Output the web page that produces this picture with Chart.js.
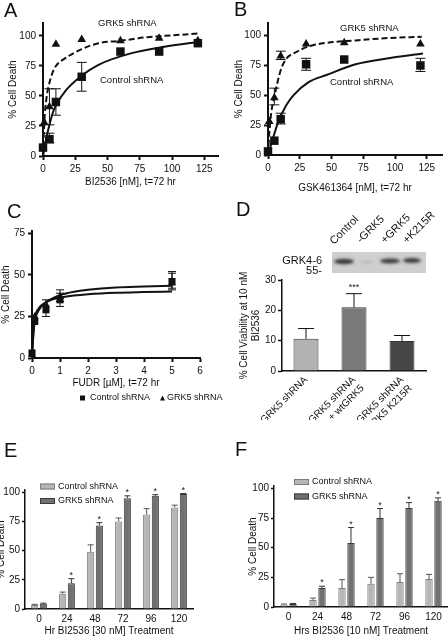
<!DOCTYPE html>
<html>
<head>
<meta charset="utf-8">
<title>GRK5 shRNA - cell death panels</title>
<script src="https://cdn.jsdelivr.net/npm/chart.js"></script>
<style>
  body { margin: 0; width: 448px; height: 642px; background: #fff; position: relative; overflow: hidden; }
  canvas { position: absolute; }
</style>
</head>
<body>
<canvas id="cA"></canvas>
<canvas id="cB"></canvas>
<canvas id="cC"></canvas>
<canvas id="cD"></canvas>
<canvas id="cE"></canvas>
<canvas id="cF"></canvas>
<script>
// ---- panel A: BI2536 dose response (72 hr) ----
var aCtrlX = [0, 5, 10, 30, 60, 90, 120];
var aCtrlY = [7, 14, 45, 66, 87, 87, 94];
var aCtrlLo = [null, 11, 34, 54, null, null, null];
var aCtrlHi = [null, 19, 56, 78, null, null, null];
var aGrkX = [1, 5, 10, 30, 60, 90, 120];
var aGrkY = [28, 41, 93, 97, 96, 98, 96];
var aGrkLo = [null, 26, null, null, null, null, null];
var aGrkHi = [null, 56, null, null, null, null, null];
var aFitGrkX = [0, 1, 2.8, 5, 7.6, 10, 18, 30, 43, 60, 81, 100, 120];
var aFitGrkY = [0, 28, 49, 61, 70, 75, 82, 89, 94, 96, 99, 100.5, 102];
var aFitCtrlX = [0, 2.8, 5, 7.6, 10, 18, 30, 43, 68, 94, 120];
var aFitCtrlY = [0, 16, 26, 36, 42, 55, 67, 76, 85.5, 91, 95];
var aXTicks = [0, 25, 50, 75, 100, 125];
var aYTicks = [0, 25, 50, 75, 100];

// ---- panel B: GSK461364 dose response (72 hr) ----
var bCtrlX = [0, 5, 10, 30, 60, 120];
var bCtrlY = [3, 12, 30, 76, 80, 75];
var bCtrlLo = [null, null, 26, 71, null, 70];
var bCtrlHi = [null, null, 35, 81, null, 81];
var bGrkX = [1, 5, 10, 30, 60, 120];
var bGrkY = [28, 48, 83, 93, 94, 93];
var bGrkLo = [null, 42, 80, null, null, null];
var bGrkHi = [null, 56, 87, null, null, null];
var bFitGrkX = [0, 1, 2.5, 5, 10, 14.6, 20, 32, 46, 69, 95, 121];
var bFitGrkY = [0, 18, 35, 49, 71, 81, 85, 91, 94, 96, 98, 99];
var bFitCtrlX = [0, 2.8, 7.8, 14.6, 20, 32, 46, 69, 95, 122];
var bFitCtrlY = [0, 10, 27, 42, 50, 61, 67, 76, 81, 85];

// ---- panel C: FUDR dose response (72 hr) ----
var cCtrlX = [0, 0.1, 0.5, 1, 5];
var cCtrlY = [3, 22, 29, 35, 46];
var cCtrlLo = [null, null, 25, 31, 41];
var cCtrlHi = [null, null, 35, 39, 51];
var cGrkX = [0, 0.1, 0.5, 1, 5];
var cGrkY = [2, 25, 32, 37, 45];
var cGrkLo = [null, null, null, 34, 42];
var cGrkHi = [null, null, null, 41, 52];
var cFitX = [0, 0.05, 0.1, 0.25, 0.5, 0.75, 1, 1.5, 2, 3, 4, 5];
var cFitUpY = [0, 14, 22, 29, 33.5, 36, 37.8, 39.8, 41, 42.4, 43, 43.5];
var cFitLowY = [0, 16, 24, 30, 33.5, 35.3, 36.3, 37.6, 38.4, 39.3, 39.7, 40];
var cXTicks = [0, 1, 2, 3, 4, 5, 6];
var cYTicks = [0, 25, 50, 75];

// ---- panel D: viability at 10 nM BI2536 ----
var dLabels = [['GRK5 shRNA'], ['GRK5 shRNA', '+ wtGRK5'], ['GRK5 shRNA', '+ GRK5 K215R']];
var dVals = [10.6, 21, 9.9];
var dErrHi = [14, 25.5, 11.7];
var dStars = ['', '***', ''];
var dYTicks = [0, 10, 20, 30];
var blotLanes = ['Control', '-GRK5', '+GRK5', '+K215R'];

// ---- panels E / F: time course ----
var hours = ['0', '24', '48', '72', '96', '120'];
var eCtrl = [3.5, 13, 49, 75, 81, 87];
var eCtrlHi = [4, 14.5, 55, 78, 86, 89];
var eGrk = [4.5, 22, 71.5, 95, 97, 98.5];
var eGrkHi = [5, 26, 74, 97, 98, 99];
var fCtrl = [2, 6, 16, 19.5, 21, 23.5];
var fCtrlHi = [2.5, 7.5, 23, 25, 28, 27.5];
var fGrk = [2.5, 16, 54, 75, 83.5, 89.5];
var fGrkHi = [3, 17.5, 67, 83, 88, 92];
var timeStars = ['', '*', '*', '*', '*', '*'];
var pctTicks = [0, 25, 50, 75, 100];

var FONT = '"Liberation Sans", Arial, sans-serif';
Chart.defaults.font.family = FONT;
Chart.defaults.color = '#111';
Chart.defaults.animation = false;
Chart.defaults.plugins.legend.display = false;
Chart.defaults.plugins.tooltip.enabled = false;

// error bars (and significance stars) drawn from the dataset's errLo / errHi arrays
Chart.register({
  id: 'errorBars',
  afterDatasetsDraw: function (chart) {
    var ctx = chart.ctx, ys = chart.scales.y;
    chart.data.datasets.forEach(function (ds, di) {
      if (!ds.errHi) return;
      chart.getDatasetMeta(di).data.forEach(function (el, i) {
        var hi = ds.errHi[i];
        var v = typeof ds.data[i] === 'object' ? ds.data[i].y : ds.data[i];
        var w = ds.capW || 4;
        ctx.save();
        ctx.strokeStyle = ds.errColor || '#111';
        ctx.lineWidth = 1;
        if (hi != null) {
          var lo = ds.errLo ? ds.errLo[i] : v;
          var yh = ys.getPixelForValue(hi), yl = ys.getPixelForValue(lo);
          ctx.beginPath();
          ctx.moveTo(el.x, yl); ctx.lineTo(el.x, yh);
          ctx.moveTo(el.x - w, yh); ctx.lineTo(el.x + w, yh);
          if (ds.errLo) { ctx.moveTo(el.x - w, yl); ctx.lineTo(el.x + w, yl); }
          ctx.stroke();
        }
        if (ds.stars && ds.stars[i]) {
          var top = ys.getPixelForValue(hi != null ? hi : v);
          ctx.fillStyle = '#222';
          ctx.font = (ds.starSize || 9) + 'px ' + FONT;
          ctx.textAlign = 'center';
          ctx.textBaseline = 'alphabetic';
          ctx.fillText(ds.stars[i], el.x, top - (ds.starGap || 1));
        }
        ctx.restore();
      });
    });
  }
});

function pts(xs, ys) { return xs.map(function (x, i) { return { x: x, y: ys[i] }; }); }

// canvas box on the page, and where the chart area has to land
function place(id, box, area) {
  var cv = document.getElementById(id);
  cv.style.left = box[0] + 'px'; cv.style.top = box[1] + 'px';
  cv.width = box[2]; cv.height = box[3];
  cv.style.width = box[2] + 'px'; cv.style.height = box[3] + 'px';
  return {
    box: box,
    padding: { left: 0, top: area.top - box[1], right: box[0] + box[2] - area.right, bottom: 0 },
    yw: area.left - box[0],
    xh: box[1] + box[3] - area.bottom
  };
}

function linAxis(L, pos, ticks, min, max, title, s) {
  return {
    type: 'linear', position: pos, min: min, max: max,
    afterFit: function (sc) { if (pos === 'left') sc.width = L.yw; else sc.height = L.xh; },
    afterBuildTicks: function (sc) { sc.ticks = ticks.map(function (v) { return { value: v }; }); },
    border: { color: '#111', width: s.bw },
    grid: { drawOnChartArea: false, drawTicks: true, tickLength: s.tl, tickWidth: s.bw, tickColor: '#111' },
    ticks: { font: { size: s.fs }, padding: s.tp, color: '#111' },
    title: { display: true, text: title, color: '#111', font: { size: s.ts },
             padding: pos === 'left' ? { top: s.tpad, bottom: 0 } : { top: 0, bottom: s.tpad } }
  };
}

function catAxis(L, title, s, extra) {
  var o = {
    type: 'category',
    afterFit: function (sc) { sc.height = L.xh; },
    border: { color: '#111', width: s.bw },
    grid: { display: true, drawOnChartArea: false, drawTicks: false },
    ticks: { font: { size: s.fs }, padding: s.tp, color: '#111', autoSkip: false },
    title: { display: !!title, text: title, color: '#111', font: { size: s.ts }, padding: { top: 0, bottom: s.tpad } }
  };
  return Object.assign(o, extra || {});
}

function notes(L, draw) {
  return { id: 'notes', afterDraw: function (chart) {
    var c = chart.ctx; c.save(); c.translate(-L.box[0], -L.box[1]); draw(c, chart); c.restore();
  } };
}

function txt(c, s, x, y, size, align, rot) {
  c.save();
  c.fillStyle = '#111';
  c.font = size + 'px ' + FONT;
  c.textAlign = align || 'left';
  c.textBaseline = rot ? 'alphabetic' : 'middle';
  c.translate(x, y);
  if (rot) c.rotate(rot);
  c.fillText(s, 0, 0);
  c.restore();
}

function curve(data, dashed) {
  return { data: data, showLine: true, borderColor: '#111', borderWidth: 2, borderDash: dashed ? [6, 3] : [],
           pointRadius: 0, cubicInterpolationMode: 'monotone', clip: false };
}
function marks(label, data, style, lo, hi) {
  return { label: label, data: data, pointStyle: style, pointRadius: style === 'rect' ? 6 : 5,
           backgroundColor: '#111', borderColor: '#111', borderWidth: 0, clip: false,
           errLo: lo, errHi: hi, capW: 5 };
}

var doseStyle = { bw: 2, tl: 4, fs: 10, tp: 3, ts: 10 };

// ---------- A ----------
var LA = place('cA', [0, 0, 224, 200], { left: 43, right: 222, top: 23, bottom: 156 });
new Chart('cA', {
  type: 'scatter',
  data: { datasets: [
    curve(pts(aFitGrkX, aFitGrkY), true),
    curve(pts(aFitCtrlX, aFitCtrlY), false),
    marks('Control shRNA', pts(aCtrlX, aCtrlY), 'rect', aCtrlLo, aCtrlHi),
    marks('GRK5 shRNA', pts(aGrkX, aGrkY), 'triangle', aGrkLo, aGrkHi)
  ] },
  options: {
    responsive: false, layout: { padding: LA.padding },
    scales: {
      x: linAxis(LA, 'bottom', aXTicks, 0, 135.6, 'BI2536 [nM], t=72 hr', Object.assign({}, doseStyle, { tpad: 12 })),
      y: linAxis(LA, 'left', aYTicks, 0, 110.8, '% Cell Death', Object.assign({}, doseStyle, { tpad: 7 }))
    }
  },
  plugins: [notes(LA, function (c) {
    txt(c, 'A', 4, 11, 20);
    txt(c, 'GRK5 shRNA', 98, 23, 9.5);
    txt(c, 'Control shRNA', 100, 80, 9.5);
  })]
});

// ---------- B ----------
var LB = place('cB', [224, 0, 224, 200], { left: 268, right: 446, top: 23, bottom: 155 });
new Chart('cB', {
  type: 'scatter',
  data: { datasets: [
    curve(pts(bFitGrkX, bFitGrkY), true),
    curve(pts(bFitCtrlX, bFitCtrlY), false),
    marks('Control shRNA', pts(bCtrlX, bCtrlY), 'rect', bCtrlLo, bCtrlHi),
    marks('GRK5 shRNA', pts(bGrkX, bGrkY), 'triangle', bGrkLo, bGrkHi)
  ] },
  options: {
    responsive: false, layout: { padding: LB.padding },
    scales: {
      x: linAxis(LB, 'bottom', aXTicks, 0, 137, 'GSK461364 [nM], t=72 hr', Object.assign({}, doseStyle, { tpad: 6 })),
      y: linAxis(LB, 'left', aYTicks, 0, 110.6, '% Cell Death', Object.assign({}, doseStyle, { tpad: 9 }))
    }
  },
  plugins: [notes(LB, function (c) {
    txt(c, 'B', 234, 10, 20);
    txt(c, 'GRK5 shRNA', 340, 28, 9.5);
    txt(c, 'Control shRNA', 330, 82, 9.5);
  })]
});

// ---------- C ----------
var LC = place('cC', [0, 200, 224, 220], { left: 32, right: 200, top: 231, bottom: 358 });
new Chart('cC', {
  type: 'scatter',
  data: { datasets: [
    curve(pts(cFitX, cFitUpY), false),
    curve(pts(cFitX, cFitLowY), false),
    Object.assign(marks('Control shRNA', pts(cCtrlX, cCtrlY), 'rect', cCtrlLo, cCtrlHi), { pointRadius: 5, capW: 4 }),
    Object.assign(marks('GRK5 shRNA', pts(cGrkX, cGrkY), 'triangle', cGrkLo, cGrkHi), { pointRadius: 4.5, capW: 4 })
  ] },
  options: {
    responsive: false, layout: { padding: LC.padding },
    scales: {
      x: linAxis(LC, 'bottom', cXTicks, 0, 6, 'FUDR [\u00b5M], t=72 hr', Object.assign({}, doseStyle, { tpad: 31 })),
      y: linAxis(LC, 'left', cYTicks, 0, 76.4, '% Cell Death', Object.assign({}, doseStyle, { tpad: 0 }))
    }
  },
  plugins: [notes(LC, function (c, chart) {
    txt(c, 'C', 7, 212, 20);
    var ds = chart.data.datasets;
    c.fillStyle = '#111';
    c.fillRect(80, 395.5, 5, 5);
    txt(c, ds[2].label, 90, 398, 9);
    c.beginPath(); c.moveTo(160, 400.5); c.lineTo(165, 400.5); c.lineTo(162.5, 395.5); c.closePath(); c.fill();
    txt(c, ds[3].label, 167, 398, 9);
  })]
});

// ---------- D ----------
var LD = place('cD', [224, 200, 224, 220], { left: 282, right: 426, top: 280, bottom: 371 });
new Chart('cD', {
  type: 'bar',
  data: { labels: dLabels, datasets: [{
    data: dVals, backgroundColor: ['#b2b2b2', '#7a7a7a', '#474747'], borderColor: '#333', borderWidth: 1,
    barPercentage: 0.52, categoryPercentage: 1, errHi: dErrHi, capW: 8, stars: dStars, starGap: 4, starSize: 9
  }] },
  options: {
    responsive: false, layout: { padding: LD.padding },
    scales: {
      x: catAxis(LD, '', { bw: 1.5, fs: 10, tp: 3, ts: 10, tpad: 0 }, {
        ticks: { font: { size: 10 }, padding: 3, color: '#111', autoSkip: false, minRotation: 45, maxRotation: 45 }
      }),
      y: linAxis(LD, 'left', dYTicks, 0, 30, ['% Cell Viability at 10 nM', 'BI2536'],
                 { bw: 1.5, tl: 4, fs: 10, tp: 2, ts: 10, tpad: 14.5 })
    }
  },
  plugins: [notes(LD, function (c) {
    txt(c, 'D', 236, 210, 20);
    // western blot strip
    c.fillStyle = '#cfcfcf';
    c.fillRect(332, 252, 94, 21);
    c.save();
    c.filter = 'blur(1.5px)';
    c.fillStyle = '#2b2b2b';
    [[344, 261.5, 10, 2.8], [367, 262, 7, 1.2], [390, 261, 10, 2.6], [412, 260.5, 9, 2.4]].forEach(function (b, i) {
      c.globalAlpha = i === 1 ? 0.15 : 0.9;
      c.beginPath(); c.ellipse(b[0], b[1], b[2], b[3], 0, 0, Math.PI * 2); c.fill();
    });
    c.restore();
    txt(c, 'GRK4-6', 322, 261, 11, 'right');
    txt(c, '55-', 322, 271, 11, 'right');
    var anchors = [[334, 245], [361, 243.5], [385, 244], [407, 244]];
    blotLanes.forEach(function (s, i) { txt(c, s, anchors[i][0], anchors[i][1], 11, 'left', -Math.PI / 4); });
  })]
});

// ---------- E / F ----------
function timeChart(id, L, ctrl, ctrlHi, grk, grkHi, title, titlePadY, letter, leg) {
  new Chart(id, {
    type: 'bar',
    data: { labels: hours, datasets: [
      { label: 'Control shRNA', data: ctrl, backgroundColor: '#b6b6b6', borderColor: '#7c7c7c', borderWidth: 1,
        barPercentage: 0.82, categoryPercentage: 0.62, errHi: ctrlHi, capW: 3, errColor: '#555' },
      { label: 'GRK5 shRNA', data: grk, backgroundColor: '#717171', borderColor: '#3a3a3a', borderWidth: 1,
        barPercentage: 0.82, categoryPercentage: 0.62, errHi: grkHi, capW: 3, errColor: '#333',
        stars: timeStars, starGap: 1, starSize: 9 }
    ] },
    options: {
      responsive: false, layout: { padding: L.padding },
      scales: {
        x: catAxis(L, title, { bw: 1.5, fs: 10, tp: 4, ts: 10, tpad: 5 }),
        y: linAxis(L, 'left', pctTicks, 0, 102, '% Cell Death', { bw: 1.5, tl: 3, fs: 10, tp: 2, ts: 10, tpad: titlePadY })
      }
    },
    plugins: [notes(L, function (c, chart) {
      txt(c, letter[0], letter[1], letter[2], 20);
      var ds = chart.data.datasets;
      [0, 1].forEach(function (k) {
        var y = leg[1] + k * 14.5;
        c.fillStyle = ds[k].backgroundColor; c.strokeStyle = ds[k].borderColor; c.lineWidth = 1;
        c.fillRect(leg[0], y - 3, 15, 6); c.strokeRect(leg[0] + 0.5, y - 2.5, 14, 5);
        txt(c, ds[k].label, leg[0] + 18, y, 9);
      });
    })]
  });
}

var LE = place('cE', [0, 420, 224, 222], { left: 25, right: 193, top: 490, bottom: 609 });
timeChart('cE', LE, eCtrl, eCtrlHi, eGrk, eGrkHi, 'Hr BI2536 [30 nM] Treatment', -5, ['E', 4, 451], [40, 486.5]);

var LF = place('cF', [224, 420, 224, 222], { left: 274, right: 448, top: 486, bottom: 607 });
timeChart('cF', LF, fCtrl, fCtrlHi, fGrk, fGrkHi, 'Hrs BI2536 [10 nM] Treatment', 23, ['F', 235, 450], [294, 482]);
</script>
</body>
</html>
